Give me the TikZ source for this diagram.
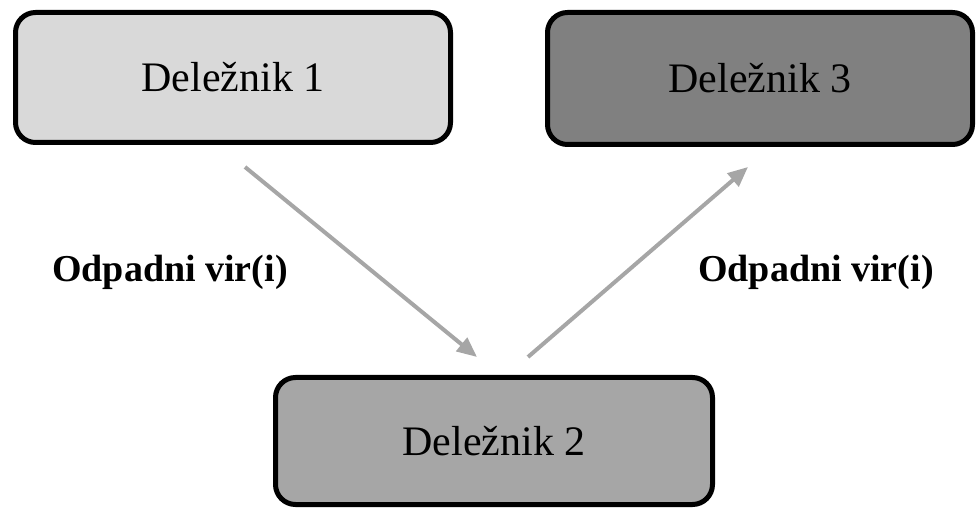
\documentclass[tikz,border=0pt]{standalone}
\usepackage{fontspec}
\setmainfont{Liberation Serif}
\usetikzlibrary{arrows.meta}
\definecolor{boxA}{HTML}{D9D9D9}
\definecolor{boxB}{HTML}{A6A6A6}
\definecolor{boxC}{HTML}{808080}
\definecolor{arr}{HTML}{A6A6A6}
\begin{document}
\begin{tikzpicture}[x=1pt,y=-1pt,
  stake/.style={draw=black, line width=5pt, rounded corners=20pt, inner sep=0pt,
    font=\fontsize{42}{50}\selectfont},
  flow/.style={draw=arr, line width=4pt, -{Triangle[length=20pt,width=17pt]}},
  lbl/.style={font=\fontsize{38}{46}\selectfont\bfseries, inner sep=0pt}]
\useasboundingbox (0,0) rectangle (977,510);
\node[stake, fill=boxA, minimum width=435pt, minimum height=130pt] (d1) at (233,77.5) {Deležnik 1};
\node[stake, fill=boxC, minimum width=425pt, minimum height=132pt] (d3) at (760,78.5) {Deležnik 3};
\node[stake, fill=boxB, minimum width=437pt, minimum height=127pt] (d2) at (494,441) {Deležnik 2};
\coordinate (a1s) at (245,167);
\coordinate (a1e) at (477,357);
\coordinate (a2s) at (528,357);
\coordinate (a2e) at (748,167);
\draw[flow] (a1s) -- (a1e);
\draw[flow] (a2s) -- (a2e);
\node[lbl] (l1) at (170,272) {Odpadni vir(i)};
\node[lbl] (l2) at (816,272) {Odpadni vir(i)};
\end{tikzpicture}
\end{document}
